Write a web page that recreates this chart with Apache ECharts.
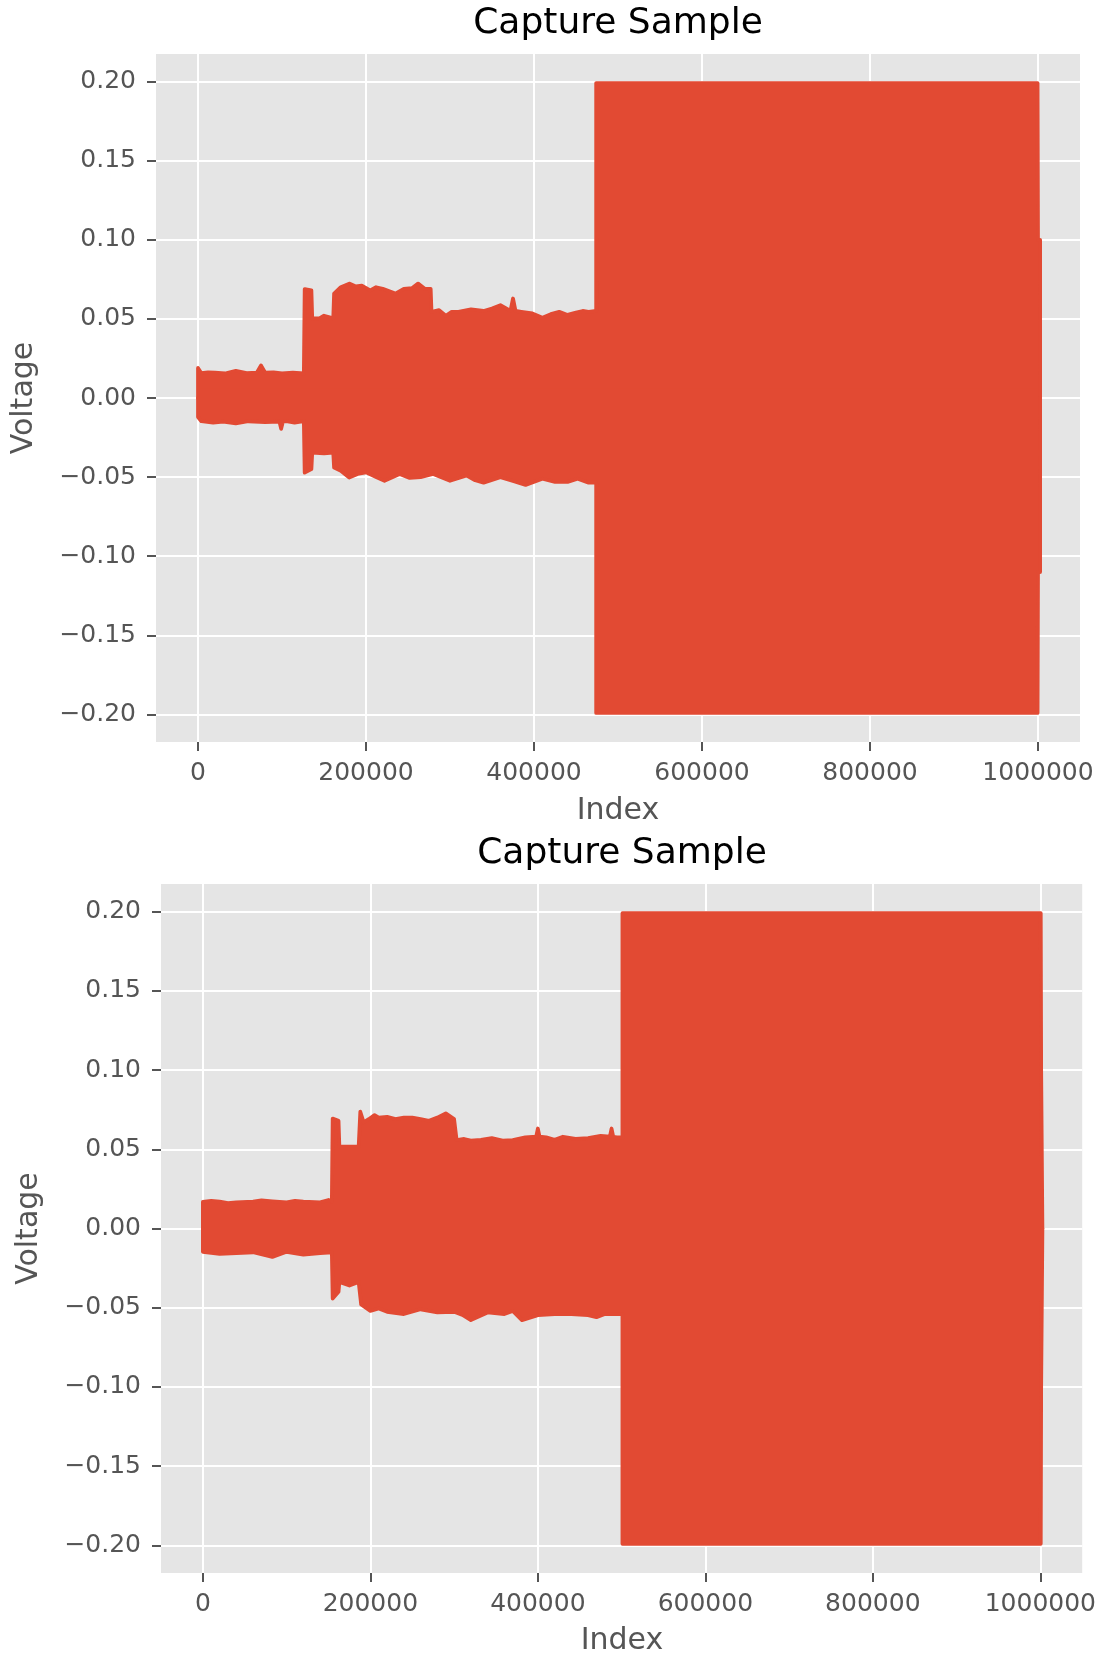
<!DOCTYPE html>
<html>
<head>
<meta charset="utf-8">
<script src="https://cdn.jsdelivr.net/npm/echarts@6/dist/echarts.min.js"></script>
<style>
html,body{margin:0;padding:0;background:#fff;}
#chart{width:1099px;height:1659px;}
</style>
</head>
<body>
<div id="chart"></div>
<script>
// ---- Data (envelope of the captured signal) ----
const titleText = "Capture Sample";
const xName = "Index";
const yName = "Voltage";
const xTicks = [0, 200000, 400000, 600000, 800000, 1000000];
const yTicks = [-0.20, -0.15, -0.10, -0.05, 0.00, 0.05, 0.10, 0.15, 0.20];

// Top plot
const topUpperX = [0, 0, 4000, 12000, 20000, 32000, 45000, 58000, 70000, 75000, 80000, 90000, 100000, 113000, 126000, 127000, 128000, 135000, 136000, 145000, 150000, 161000, 162000, 170000, 180000, 188000, 195000, 205000, 212000, 220000, 235000, 245000, 255000, 262000, 270000, 277000, 278000, 287000, 295000, 302000, 310000, 325000, 340000, 350000, 360000, 372000, 375000, 378000, 385000, 398000, 410000, 420000, 430000, 440000, 450000, 458000, 465000, 474000, 474000, 999500, 1000000, 1002500, 1002500];
const topUpperY = [0, 0.019, 0.0157, 0.0162, 0.016, 0.0155, 0.0172, 0.0158, 0.016, 0.0206, 0.016, 0.0162, 0.0155, 0.016, 0.0155, 0.0688, 0.0688, 0.068, 0.0503, 0.0505, 0.052, 0.0503, 0.066, 0.070, 0.0723, 0.0705, 0.071, 0.068, 0.0700, 0.069, 0.066, 0.0690, 0.0695, 0.0723, 0.069, 0.069, 0.0545, 0.0555, 0.052, 0.0545, 0.0545, 0.0560, 0.055, 0.0565, 0.0587, 0.055, 0.0629, 0.055, 0.0545, 0.0535, 0.0507, 0.0530, 0.0545, 0.0525, 0.054, 0.0550, 0.0545, 0.055, 0.199, 0.199, 0.10, 0.10, 0];
const topLowerX = [0, 0, 4000, 18000, 30000, 45000, 60000, 80000, 97000, 99000, 101000, 105000, 115000, 126000, 127000, 128000, 135000, 136000, 150000, 161000, 162000, 170000, 180000, 190000, 200000, 212000, 222000, 240000, 252000, 265000, 280000, 300000, 320000, 330000, 340000, 360000, 375000, 390000, 410000, 425000, 440000, 452000, 465000, 474000, 474000, 999500, 1000000, 1002500, 1002500];
const topLowerY = [0, -0.012, -0.0147, -0.0155, -0.015, -0.0160, -0.0147, -0.0152, -0.015, -0.0195, -0.015, -0.0147, -0.0155, -0.0147, -0.0472, -0.0472, -0.045, -0.0346, -0.035, -0.0346, -0.044, -0.0460, -0.0503, -0.0480, -0.047, -0.0500, -0.0524, -0.048, -0.0505, -0.050, -0.048, -0.0523, -0.049, -0.0520, -0.0535, -0.050, -0.0525, -0.0549, -0.051, -0.0530, -0.053, -0.0510, -0.0535, -0.0535, -0.199, -0.199, -0.11, -0.11, 0];

// Bottom plot
const botUpperX = [0, 0, 10000, 20000, 30000, 40000, 60000, 70000, 83000, 100000, 110000, 120000, 140000, 150000, 154000, 155000, 156000, 162000, 163000, 175000, 186000, 188000, 190000, 192000, 198000, 205000, 210000, 220000, 230000, 240000, 250000, 260000, 270000, 280000, 290000, 300000, 302000, 303000, 312000, 320000, 332000, 345000, 358000, 370000, 385000, 398000, 400000, 402000, 410000, 420000, 430000, 445000, 460000, 475000, 486000, 488000, 490000, 494000, 501000, 501000, 1000500, 1001000, 1002500, 1002500];
const botUpperY = [0, 0.0168, 0.0175, 0.017, 0.0160, 0.0165, 0.017, 0.0178, 0.0172, 0.0165, 0.0175, 0.017, 0.0165, 0.018, 0.017, 0.0694, 0.0694, 0.068, 0.0516, 0.0516, 0.0516, 0.0737, 0.0737, 0.067, 0.0690, 0.0716, 0.070, 0.0705, 0.069, 0.0700, 0.070, 0.0690, 0.068, 0.0700, 0.0727, 0.069, 0.069, 0.0558, 0.0565, 0.0555, 0.0560, 0.057, 0.0555, 0.0558, 0.0575, 0.058, 0.0631, 0.058, 0.0575, 0.0560, 0.0579, 0.0565, 0.057, 0.0585, 0.058, 0.0631, 0.058, 0.0575, 0.0575, 0.199, 0.199, 0.10, 0.10, 0];
const botLowerX = [0, 0, 20000, 40000, 60000, 83000, 100000, 120000, 140000, 154000, 155000, 156000, 162000, 163000, 175000, 186000, 189000, 200000, 210000, 220000, 240000, 260000, 280000, 300000, 310000, 320000, 340000, 360000, 370000, 381000, 400000, 420000, 440000, 460000, 470000, 480000, 494000, 501000, 501000, 1000500, 1001000, 1002500, 1002500];
const botLowerY = [0, -0.0147, -0.016, -0.0155, -0.0150, -0.0179, -0.0147, -0.0165, -0.0155, -0.015, -0.0442, -0.0442, -0.040, -0.0337, -0.036, -0.0337, -0.048, -0.052, -0.0505, -0.0526, -0.054, -0.051, -0.053, -0.0526, -0.0545, -0.0578, -0.053, -0.054, -0.0520, -0.0578, -0.0547, -0.054, -0.054, -0.0547, -0.0560, -0.054, -0.054, -0.054, -0.199, -0.199, -0.10, -0.10, 0];

// ---- Styling ----
const RED = '#E24A33';
const TICK = '#555555';
const FONT = '"DejaVu Sans", sans-serif';
const pair = (xs, ys) => xs.map((x, i) => [x, ys[i]]);
const fmtY = v => (v < 0 ? '\u2212' : '') + Math.abs(v).toFixed(2);

const grids = [
  {left: 156, top: 54, width: 924, height: 688},
  {left: 161, top: 884, width: 922, height: 689}
];

function xAxisOf(gi) {
  return {
    type: 'value', gridIndex: gi, min: -50000, max: 1050000, position: 'bottom',
    axisLine: {show: false, onZero: false},
    axisTick: {show: true, length: 9, customValues: xTicks, lineStyle: {color: TICK, width: 2}},
    axisLabel: {customValues: xTicks, color: TICK, fontSize: 25, fontFamily: FONT, margin: 19,
                formatter: v => String(Math.round(v))},
    splitLine: {show: true, lineStyle: {color: '#ffffff', width: 2}}
  };
}
function yAxisOf(gi) {
  return {
    type: 'value', gridIndex: gi, min: -0.2174, max: 0.2174, position: 'left',
    axisLine: {show: false, onZero: false},
    axisTick: {show: true, length: 9, customValues: yTicks, lineStyle: {color: TICK, width: 2}},
    axisLabel: {customValues: yTicks, color: TICK, fontSize: 25, fontFamily: FONT, margin: 20,
                formatter: fmtY},
    splitLine: {show: true, lineStyle: {color: '#ffffff', width: 2}}
  };
}
function envSeries(gi, xs, ys, origin) {
  return {
    type: 'line', xAxisIndex: gi, yAxisIndex: gi, data: pair(xs, ys),
    showSymbol: false, symbol: 'none', animation: false, silent: true,
    lineStyle: {color: RED, width: 3.75, join: 'round', cap: 'round'},
    areaStyle: {color: RED, opacity: 1, origin: origin}
  };
}
function textEl(text, x, y, size, color, rot) {
  return {type: 'text', x: x, y: y, rotation: rot || 0, silent: true,
          style: {text: text, fill: color, font: size + 'px ' + FONT, align: 'center', verticalAlign: 'middle'}};
}

const chart = echarts.init(document.getElementById('chart'), null, {renderer: 'canvas'});
chart.setOption({
  backgroundColor: '#ffffff',
  animation: false,
  grid: grids.map(g => Object.assign({show: true, backgroundColor: '#E5E5E5', borderWidth: 0, containLabel: false}, g)),
  xAxis: [xAxisOf(0), xAxisOf(1)],
  yAxis: [yAxisOf(0), yAxisOf(1)],
  series: [
    envSeries(0, topUpperX, topUpperY, -0.006),
    envSeries(0, topLowerX, topLowerY, 0.006),
    envSeries(1, botUpperX, botUpperY, -0.006),
    envSeries(1, botLowerX, botLowerY, 0.006)
  ],
  graphic: [
    textEl(titleText, 618, 23.5, 36, '#000000'),
    textEl(titleText, 622, 853.5, 36, '#000000'),
    textEl(xName, 618, 811, 30, TICK),
    textEl(xName, 622, 1641, 30, TICK),
    textEl(yName, 24.6, 398, 30, TICK, Math.PI / 2),
    textEl(yName, 29.4, 1228.5, 30, TICK, Math.PI / 2)
  ]
});
</script>
</body>
</html>
